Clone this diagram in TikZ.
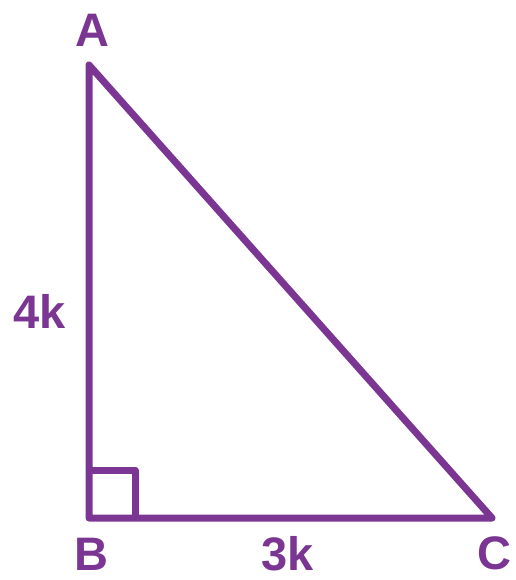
\documentclass[tikz,border=0pt]{standalone}
\usepackage{fontspec}
\setmainfont{Liberation Sans}
\definecolor{tripurple}{HTML}{7B3592}
\tikzset{
  side/.style={draw=tripurple, line width=7pt, line join=round},
  lbl/.style={text=tripurple, font=\fontsize{47}{47}\selectfont\bfseries, inner sep=0pt}
}
\begin{document}
\begin{tikzpicture}[x=1pt,y=1pt]
\useasboundingbox (0,0) rectangle (515,-580);
\coordinate (A) at (89,-65);
\coordinate (B) at (89,-518);
\coordinate (C) at (492,-518);
\draw[side] (A) -- (B) -- (C) -- cycle;
\coordinate (s1) at (89,-470);
\coordinate (s2) at (135,-470);
\coordinate (s3) at (135,-518);
\draw[side] (s1) -- (s2) -- (s3);
\node[lbl] (lA) at (92,-30) {A};
\node[lbl] (lB) at (91,-554) {B};
\node[lbl] (lC) at (494,-553) {C};
\node[lbl] (l4k) at (40,-311) {4k};
\node[lbl] (l3k) at (288,-554) {3k};
\end{tikzpicture}
\end{document}
